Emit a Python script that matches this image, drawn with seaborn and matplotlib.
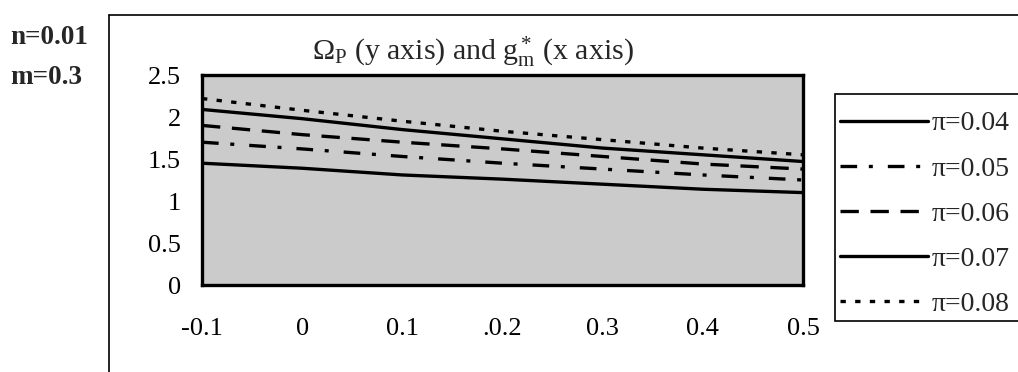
import matplotlib
matplotlib.use("Agg")
import matplotlib.pyplot as plt
from matplotlib.lines import Line2D
from matplotlib.patches import Rectangle
import seaborn as sns
import pandas as pd

# ---- data ----
g_m = [-0.1, 0.0, 0.1, 0.2, 0.3, 0.4, 0.5]
pi_004 = [1.45, 1.39, 1.31, 1.26, 1.20, 1.14, 1.10]
pi_005 = [1.70, 1.62, 1.53, 1.45, 1.38, 1.31, 1.25]
pi_006 = [1.90, 1.79, 1.70, 1.62, 1.53, 1.44, 1.38]
pi_007 = [2.09, 1.98, 1.85, 1.74, 1.63, 1.55, 1.47]
pi_008 = [2.22, 2.08, 1.95, 1.83, 1.73, 1.63, 1.55]
series_labels = ["π=0.04", "π=0.05", "π=0.06", "π=0.07", "π=0.08"]
x_ticks = [-0.1, 0, 0.1, 0.2, 0.3, 0.4, 0.5]
x_tick_labels = ["-0.1", "0", "0.1", ".0.2", "0.3", "0.4", "0.5"]
y_ticks = [0, 0.5, 1, 1.5, 2, 2.5]
y_tick_labels = ["0", "0.5", "1", "1.5", "2", "2.5"]
title = "Ω$_\\mathrm{P}$ (y axis) and g$^*_\\mathrm{m}$ (x axis)"
side_labels = ["n=0.01", "m=0.3"]

sns.set_theme(style="white")
plt.rcParams["font.family"] = ["Liberation Serif", "DejaVu Serif"]
plt.rcParams["mathtext.fontset"] = "custom"
plt.rcParams["mathtext.rm"] = "Liberation Serif"
plt.rcParams["mathtext.it"] = "Liberation Serif:italic"

W, H = 1018, 372
fig = plt.figure(figsize=(W / 100, H / 100), dpi=100)
fig.patch.set_facecolor("white")
ax = fig.add_axes([202 / W, 1 - 285 / H, (803 - 202) / W, (285 - 75) / H])
ax.set_facecolor("#cbcbcb")

styles = [
    "-",
    (0, (5, 3.5, 1.2, 4.5)),
    (0, (5.5, 3.5)),
    "-",
    (0, (1.6, 2.8)),
]
all_series = [pi_004, pi_005, pi_006, pi_007, pi_008]
for vals, lab, ls in zip(all_series, series_labels, styles):
    df = pd.DataFrame({"g": g_m, "omega": vals})
    sns.lineplot(data=df, x="g", y="omega", ax=ax, color="black",
                 linewidth=2.4, linestyle=ls, label=lab)

ax.set_xlim(-0.1, 0.5)
ax.set_ylim(0, 2.5)
ax.set_xticks(x_ticks)
ax.set_xticklabels(x_tick_labels)
ax.set_yticks(y_ticks)
ax.set_yticklabels(y_tick_labels)
ax.set_xlabel("")
ax.set_ylabel("")
ax.tick_params(axis="x", direction="in", length=4, width=1, pad=24,
               labelsize=19, colors="black")
ax.tick_params(axis="y", direction="in", length=4, width=1, pad=15,
               labelsize=19, colors="black")
for sp in ax.spines.values():
    sp.set_visible(True)
    sp.set_color("black")
    sp.set_linewidth(2.4)

# legend box (runs off the right edge, as in the reference)
box = Rectangle((835 / W, 1 - 321 / H), (1040 - 835) / W, (321 - 94) / H,
                transform=fig.transFigure, facecolor="white",
                edgecolor="black", linewidth=1.2, clip_on=False, zorder=4)
ax.add_patch(box)
leg = ax.legend(loc="upper left", bbox_to_anchor=(840 / W, 1 - 111 / H),
                bbox_transform=fig.transFigure, frameon=False,
                fontsize=20, handlelength=3.15, handletextpad=0.14,
                labelspacing=0.71, borderpad=0, borderaxespad=0)
leg.set_zorder(6)
for h in leg.get_lines():
    h.set_linewidth(2.4)

fig.text(473 / W, 1 - 52 / H, title, ha="center", va="center", fontsize=21.5)
fig.text(10 / W, 1 - 38 / H, side_labels[0], ha="left", va="center",
         fontsize=19.5, fontweight="bold")
fig.text(10 / W, 1 - 78 / H, side_labels[1], ha="left", va="center",
         fontsize=19.5, fontweight="bold")

# outer frame (cut off at right and bottom)
fig.add_artist(Line2D([109 / W, 109 / W], [0, 1 - 15 / H],
                      transform=fig.transFigure, color="black", linewidth=1.2))
fig.add_artist(Line2D([109 / W, 1], [1 - 15 / H, 1 - 15 / H],
                      transform=fig.transFigure, color="black", linewidth=1.2))

fig.savefig("out.png", dpi=100)
